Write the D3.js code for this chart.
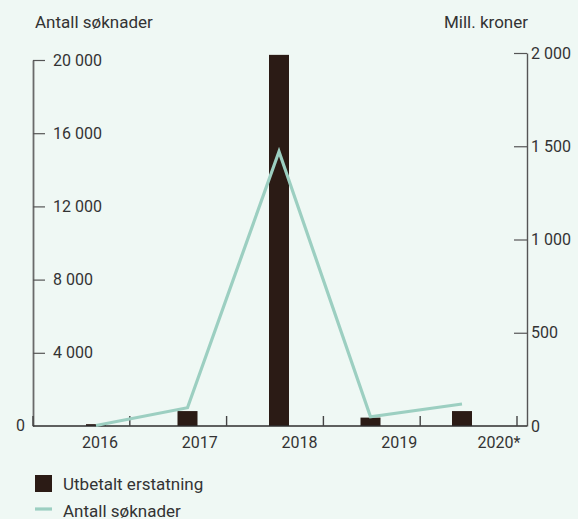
<!DOCTYPE html>
<html>
<head>
<meta charset="utf-8">
<script src="https://cdn.jsdelivr.net/npm/d3@7"></script>
<style>
  html, body { margin: 0; padding: 0; background: #eff8f4; }
  svg { display: block; font-family: Roboto, "Noto Sans", sans-serif; }
  text { fill: #333; }
</style>
</head>
<body>
<svg id="chart" width="578" height="519"></svg>
<script>
// ---- data ----
const years = ["2016", "2017", "2018", "2019", "2020*"];
const utbetalt = [10, 80, 1990, 45, 80];          // Mill. kroner (right axis, bars)
const soknader = [30, 1000, 15000, 500, 1200];     // Antall søknader (left axis, line)
const leftTicks = [4000, 8000, 12000, 16000, 20000];
const rightTicks = [500, 1000, 1500, 2000];
const leftTitle = "Antall søknader";
const rightTitle = "Mill. kroner";
const legendLabels = ["Utbetalt erstatning", "Antall søknader"];

// ---- setup ----
const svg = d3.select("#chart");
const W = 578, H = 519;
svg.append("rect").attr("width", W).attr("height", H).attr("fill", "#eff8f4");

const barColor = "#2b1b15";
const lineColor = "#9ccfc1";
const axisDark = "#2e2e2e";

const locale = d3.formatLocale({ decimal: ",", thousands: "\u00a0", grouping: [3], currency: ["", " kr"] });
const fmt = locale.format(",");

const yL = d3.scaleLinear().domain([0, 20000]).range([426, 60]);
const yR = d3.scaleLinear().domain([0, 2000]).range([426, 53]);

const xBand = d3.scaleBand().domain(years).range([33, 517]);
const xMark = d3.scalePoint().domain(years).range([96, 462]);
const xLabel = d3.scalePoint().domain(years).range([100, 499]);

// titles
svg.append("text").attr("x", 35).attr("y", 28).attr("font-size", 17).text(leftTitle);
svg.append("text").attr("x", 528).attr("y", 28).attr("font-size", 17).attr("text-anchor", "end").text(rightTitle);

// left axis (ticks inward, labels right)
const gL = svg.append("g").attr("transform", "translate(33,0)")
  .call(d3.axisRight(yL).tickValues(leftTicks).tickFormat(fmt).tickSizeInner(12).tickSizeOuter(0).tickPadding(8));
gL.select(".domain").attr("stroke", "#6a6a6a").attr("stroke-width", 1.8);
gL.selectAll(".tick line").attr("stroke", "#555").attr("stroke-width", 1.2);
gL.selectAll(".tick text").attr("font-size", 16).attr("fill", "#333").attr("font-family", "Roboto, sans-serif");

// left zero label
svg.append("text").attr("x", 25).attr("y", yL(0)).attr("dy", "0.32em").attr("text-anchor", "end")
  .attr("font-size", 16).text(fmt(0));

// right axis (ticks inward to the left, labels right)
const gR = svg.append("g").attr("transform", "translate(527,0)")
  .call(d3.axisRight(yR).tickValues([0].concat(rightTicks)).tickFormat(fmt).tickSizeInner(-13).tickSizeOuter(0).tickPadding(4));
gR.select(".domain").attr("stroke", "#555").attr("stroke-width", 1.4);
gR.selectAll(".tick line").attr("stroke", "#555").attr("stroke-width", 1.2)
  .filter(d => d === 0).remove();
gR.selectAll(".tick text").attr("font-size", 16).attr("fill", "#333").attr("font-family", "Roboto, sans-serif");

// bars
const bw = 20;
svg.append("g").selectAll("rect").data(years).join("rect")
  .attr("x", d => xMark(d) - bw / 2)
  .attr("width", bw)
  .attr("y", (d, i) => yR(utbetalt[i]))
  .attr("height", (d, i) => yR(0) - yR(utbetalt[i]))
  .attr("fill", barColor);

// x baseline + ticks
const edges = years.map(d => xBand(d)).concat([xBand.range()[1]]);
svg.append("line").attr("x1", 33).attr("x2", 527).attr("y1", yL(0)).attr("y2", yL(0))
  .attr("stroke", axisDark).attr("stroke-width", 1.6);
svg.append("g").selectAll("line").data(edges).join("line")
  .attr("x1", d => d).attr("x2", d => d)
  .attr("y1", yL(0)).attr("y2", yL(0) - 10)
  .attr("stroke", "#444").attr("stroke-width", 1.4);

// x labels
svg.append("g").selectAll("text").data(years).join("text")
  .attr("x", d => xLabel(d)).attr("y", 448)
  .attr("text-anchor", "middle").attr("font-size", 16).text(d => d);

// line
const line = d3.line().x(d => xMark(d.year)).y(d => yL(d.v));
svg.append("path")
  .datum(years.map((y, i) => ({ year: y, v: soknader[i] })))
  .attr("d", line)
  .attr("fill", "none").attr("stroke", lineColor).attr("stroke-width", 3.2)
  .attr("stroke-linejoin", "miter");

// legend
svg.append("rect").attr("x", 35).attr("y", 475).attr("width", 17).attr("height", 17).attr("fill", barColor);
svg.append("text").attr("x", 63).attr("y", 490).attr("font-size", 17).text(legendLabels[0]);
svg.append("line").attr("x1", 35).attr("x2", 52).attr("y1", 509).attr("y2", 509)
  .attr("stroke", lineColor).attr("stroke-width", 3.2);
svg.append("text").attr("x", 63).attr("y", 517).attr("font-size", 17).text(legendLabels[1]);
</script>
</body>
</html>
